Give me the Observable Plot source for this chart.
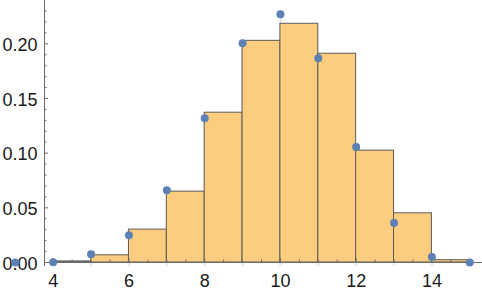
<!DOCTYPE html>
<html><head><meta charset="utf-8">
<script src="https://cdn.jsdelivr.net/npm/d3@7"></script>
<script src="https://cdn.jsdelivr.net/npm/@observablehq/plot@0.6"></script>
<style>body{margin:0;background:#fff} svg{display:block}</style>
</head><body><div id="chart"></div>
<script>
// Histogram bins (unit width) and heights
const binStarts = [4, 5, 6, 7, 8, 9, 10, 11, 12, 13, 14];
const binHeights = [0.001, 0.0066, 0.0301, 0.0648, 0.137, 0.2027, 0.2183, 0.1909, 0.1023, 0.045, 0.0021];
// Discrete points
const pointX = [3, 4, 5, 6, 7, 8, 9, 10, 11, 12, 13, 14, 15];
const pointY = [0, 0.0003, 0.0075, 0.0249, 0.066, 0.132, 0.2005, 0.227, 0.1868, 0.1056, 0.0362, 0.0051, 0];
// Ticks
const xMajorTicks = [4, 6, 8, 10, 12, 14];
const xMinorTicks = [4.5, 5, 5.5, 6.5, 7, 7.5, 8.5, 9, 9.5, 10.5, 11, 11.5, 12.5, 13, 13.5, 14.5, 15, 15.5];
const yMajorTicks = [0, 0.05, 0.10, 0.15, 0.20];
const yMinorTicks = [0.01, 0.02, 0.03, 0.04, 0.06, 0.07, 0.08, 0.09, 0.11, 0.12, 0.13, 0.14, 0.16, 0.17, 0.18, 0.19, 0.21, 0.22, 0.23];
const xDomain = [3.77, 15.336];
const yDomain = [0, 0.2396];

const bins = binStarts.map((x0, i) => ({x0, x1: x0 + 1, h: binHeights[i]}));
const points = pointX.map((x, i) => ({x, y: pointY[i]}));
const x0 = xDomain[0];
const axisColor = "#6b6b6b";
const font = "'Liberation Sans', Arial, Helvetica, sans-serif";

const chart = Plot.plot({
  width: 482,
  height: 295,
  marginLeft: 44,
  marginRight: 0,
  marginTop: 0,
  marginBottom: 33,
  style: {fontFamily: font, background: "#fff", overflow: "visible"},
  x: {domain: xDomain, axis: null},
  y: {domain: yDomain, axis: null},
  marks: [
    // faint fill lines from points to axis
    Plot.ruleX(points.filter(d => d.y > 0.001), {x: "x", y1: 0, y2: "y", stroke: "#5E81B5", strokeOpacity: 0.22, strokeWidth: 2}),
    // histogram bars
    Plot.rectY(bins, {x1: "x0", x2: "x1", y: "h", fill: "#FCCD7E", stroke: "#5b5b5b", strokeWidth: 1}),
    // faint marks below axis
    Plot.ruleX(points.filter(d => d.x >= 4), {x: "x", y1: 0, y2: 0, insetBottom: -4, stroke: "#5E81B5", strokeOpacity: 0.15, strokeWidth: 3}),
    // axes
    Plot.ruleY([0], {x1: x0, x2: xDomain[1], stroke: axisColor, strokeWidth: 1}),
    Plot.ruleX([x0], {stroke: axisColor, strokeWidth: 1, insetBottom: -4}),
    // y ticks
    Plot.ruleY(yMajorTicks, {y: d => d, x1: x0, x2: x0, insetRight: -4, stroke: axisColor}),
    Plot.ruleY(yMinorTicks, {y: d => d, x1: x0, x2: x0, insetRight: -2.5, stroke: axisColor}),
    // x ticks
    Plot.ruleX(xMajorTicks, {x: d => d, y1: 0, y2: 0, insetTop: -4, stroke: axisColor}),
    Plot.ruleX(xMinorTicks, {x: d => d, y1: 0, y2: 0, insetTop: -2.5, stroke: axisColor}),
    // tick labels
    Plot.text(yMajorTicks, {x: x0, y: d => d, text: d => d.toFixed(2), textAnchor: "end", dx: -7, dy: 1.5, fontSize: 18, fill: "#1a1a1a"}),
    Plot.text(xMajorTicks, {x: d => d, y: 0, text: d => String(d), dy: 19, fontSize: 18, fill: "#1a1a1a"}),
    // points
    Plot.dot(points, {x: "x", y: "y", r: 4, fill: "#5E81B5"})
  ]
});
document.getElementById("chart").appendChild(chart);
</script>
</body></html>
